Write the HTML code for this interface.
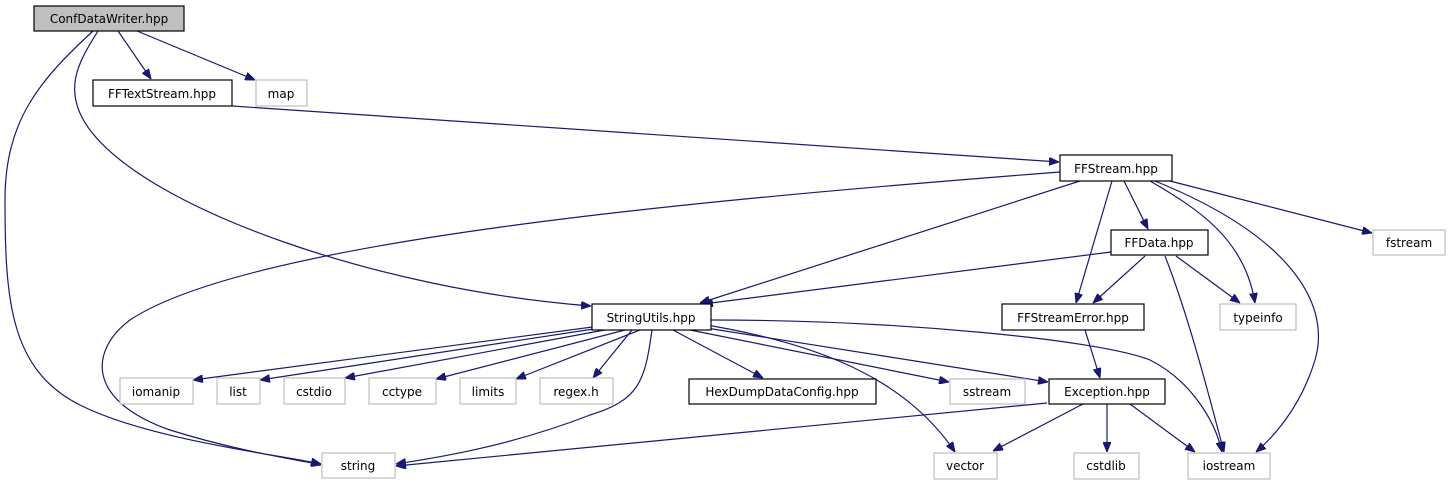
<!DOCTYPE html>
<html><head><meta charset="utf-8"><style>
body{margin:0;background:#fff;}
svg text{font-family:"DejaVu Sans","Liberation Sans",sans-serif;font-size:12px;text-anchor:middle;fill:#000;}
.e{fill:none;stroke:#191970;stroke-width:1.2;}
.b{fill:#fff;stroke:#000;stroke-width:1.2;}
.g{fill:#fff;stroke:#bfbfbf;stroke-width:1.2;}
</style></head><body>
<svg width="1451" height="485" xmlns="http://www.w3.org/2000/svg">
<defs><marker id="a" viewBox="0 0 10 8" refX="10" refY="4" markerWidth="10" markerHeight="8" markerUnits="userSpaceOnUse" orient="auto"><path d="M0,0L10,4L0,8z" fill="#191970" stroke="#191970"/></marker></defs>
<g marker-end="url(#a)">
<path class="e" d="M118,31L151,79"/>
<path class="e" d="M137,31L255,80"/>
<path class="e" d="M93,31C40,80 5,120 5,200C5,300 10,370 80,405C150,440 280,455 321,464"/>
<path class="e" d="M98,31C80,60 60,90 90,130C150,210 380,290 591,306"/>
<path class="e" d="M232,106L1059,162"/>
<path class="e" d="M1060,172C700,200 250,240 130,320C90,350 85,400 170,430C240,452 300,460 321,465"/>
<path class="e" d="M1080,181L700,303"/>
<path class="e" d="M1112,181L1076,303"/>
<path class="e" d="M1124,181L1148,229"/>
<path class="e" d="M1150,181C1200,210 1245,240 1255,303"/>
<path class="e" d="M1155,181C1300,240 1330,310 1315,360C1300,410 1270,440 1256,452"/>
<path class="e" d="M1170,181L1372,233"/>
<path class="e" d="M1111,252L703,304"/>
<path class="e" d="M1145,256L1093,303"/>
<path class="e" d="M1176,256L1240,303"/>
<path class="e" d="M1165,256C1190,320 1210,400 1224,452"/>
<path class="e" d="M600,326L193,380"/>
<path class="e" d="M600,328L260,380"/>
<path class="e" d="M610,329L345,378"/>
<path class="e" d="M625,330L436,379"/>
<path class="e" d="M640,330L516,379"/>
<path class="e" d="M632,330L593,378"/>
<path class="e" d="M673,330L763,378"/>
<path class="e" d="M690,330L949,382"/>
<path class="e" d="M700,327L1048,382"/>
<path class="e" d="M695,323C800,340 900,370 955,452"/>
<path class="e" d="M652,330C645,380 640,400 590,415C500,450 420,460 396,464"/>
<path class="e" d="M711,320C900,320 1100,340 1150,360C1190,380 1215,420 1222,452"/>
<path class="e" d="M1085,330L1100,378"/>
<path class="e" d="M1047,403L396,466"/>
<path class="e" d="M1083,404L993,451"/>
<path class="e" d="M1107,404L1107,452"/>
<path class="e" d="M1130,404L1195,452"/>
</g>
<rect x="34" y="6" width="150" height="25" fill="#bfbfbf" stroke="#000" stroke-width="1.2"/><text x="109" y="23">ConfDataWriter.hpp</text>
<rect class="b" x="93" y="80" width="139" height="26"/><text x="162" y="98">FFTextStream.hpp</text>
<rect class="g" x="256" y="80" width="51" height="26"/><text x="281" y="98">map</text>
<rect class="b" x="1060" y="155" width="112" height="26"/><text x="1116" y="173">FFStream.hpp</text>
<rect class="b" x="1111" y="230" width="97" height="25"/><text x="1159" y="247">FFData.hpp</text>
<rect class="g" x="1373" y="230" width="72" height="25"/><text x="1409" y="247">fstream</text>
<rect class="b" x="592" y="304" width="119" height="26"/><text x="651" y="322">StringUtils.hpp</text>
<rect class="b" x="1002" y="304" width="142" height="26"/><text x="1073" y="322">FFStreamError.hpp</text>
<rect class="g" x="1220" y="304" width="76" height="26"/><text x="1258" y="322">typeinfo</text>
<rect class="g" x="120" y="378" width="73" height="26"/><text x="156" y="396">iomanip</text>
<rect class="g" x="217" y="378" width="43" height="26"/><text x="238" y="396">list</text>
<rect class="g" x="284" y="378" width="61" height="26"/><text x="314" y="396">cstdio</text>
<rect class="g" x="369" y="378" width="67" height="26"/><text x="402" y="396">cctype</text>
<rect class="g" x="460" y="378" width="56" height="26"/><text x="488" y="396">limits</text>
<rect class="g" x="540" y="378" width="73" height="26"/><text x="576" y="396">regex.h</text>
<rect class="b" x="689" y="379" width="187" height="25"/><text x="782" y="396">HexDumpDataConfig.hpp</text>
<rect class="g" x="950" y="379" width="75" height="25"/><text x="987" y="396">sstream</text>
<rect class="b" x="1049" y="379" width="116" height="25"/><text x="1107" y="396">Exception.hpp</text>
<rect class="g" x="322" y="453" width="73" height="25"/><text x="358" y="470">string</text>
<rect class="g" x="934" y="453" width="63" height="26"/><text x="965" y="470">vector</text>
<rect class="g" x="1074" y="453" width="65" height="26"/><text x="1106" y="470">cstdlib</text>
<rect class="g" x="1188" y="453" width="82" height="26"/><text x="1229" y="470">iostream</text>
</svg>
</body></html>
